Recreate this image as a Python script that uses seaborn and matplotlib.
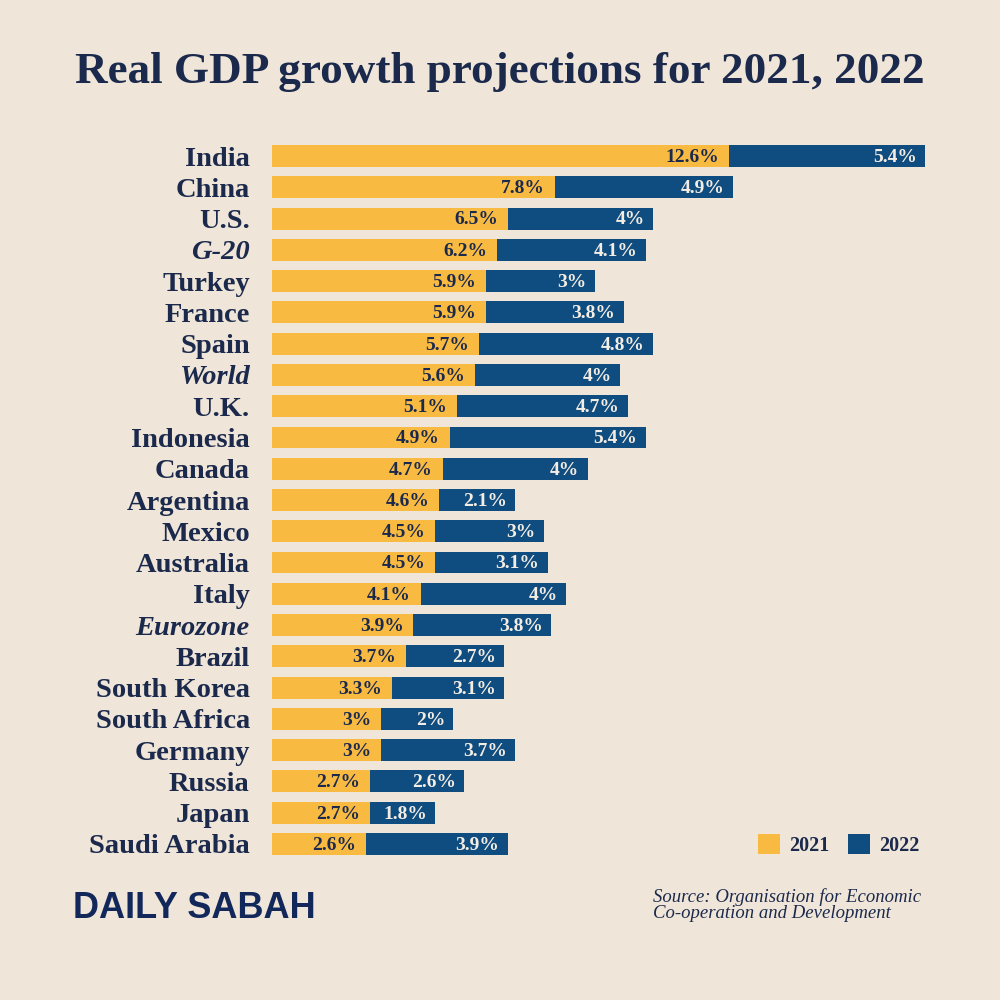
"""Real GDP growth projections for 2021 and 2022 (OECD), stacked horizontal bars."""
import pandas as pd
import matplotlib.pyplot as plt
import seaborn as sns
from matplotlib.patches import Patch

COUNTRIES = ["India", "China", "U.S.", "G-20", "Turkey", "France", "Spain", "World",
             "U.K.", "Indonesia", "Canada", "Argentina", "Mexico", "Australia", "Italy",
             "Eurozone", "Brazil", "South Korea", "South Africa", "Germany", "Russia",
             "Japan", "Saudi Arabia"]
GROWTH_2021 = [12.6, 7.8, 6.5, 6.2, 5.9, 5.9, 5.7, 5.6, 5.1, 4.9, 4.7, 4.6, 4.5, 4.5,
               4.1, 3.9, 3.7, 3.3, 3.0, 3.0, 2.7, 2.7, 2.6]
GROWTH_2022 = [5.4, 4.9, 4.0, 4.1, 3.0, 3.8, 4.8, 4.0, 4.7, 5.4, 4.0, 2.1, 3.0, 3.1,
               4.0, 3.8, 2.7, 3.1, 2.0, 3.7, 2.6, 1.8, 3.9]
AGGREGATES = {"G-20", "World", "Eurozone"}   # shown in italics
YEARS = ["2021", "2022"]

BG = "#F0E5D9"
YELLOW = "#F9BA42"
NAVY = "#0F4C7F"
INK = "#1B2A4C"
CREAM = "#F4EDE3"
SERIF = ["Liberation Serif", "DejaVu Serif"]

sns.set_theme(style="white")
plt.rcParams.update({"font.family": SERIF, "figure.facecolor": BG, "axes.facecolor": BG})

df = pd.DataFrame({"country": COUNTRIES, "y2021": GROWTH_2021, "y2022": GROWTH_2022})
df["total"] = df["y2021"] + df["y2022"]

fig = plt.figure(figsize=(10, 10), dpi=100)
ax = fig.add_axes([0.272, 0.1404, 0.653, 0.7192])

# total length in navy, 2021 part drawn over it in yellow
sns.barplot(data=df, x="total", y="country", color=NAVY, saturation=1, width=0.7,
            linewidth=0, ax=ax)
sns.barplot(data=df, x="y2021", y="country", color=YELLOW, saturation=1, width=0.7,
            linewidth=0, ax=ax)

for i, row in df.iterrows():
    ax.annotate(f"{row['y2021']:g}%", (row["y2021"], i), xytext=(-7, -1),
                textcoords="offset points", ha="right", va="center",
                fontsize=14, fontweight="bold", color=INK)
    ax.annotate(f"{row['y2022']:g}%", (row["total"], i), xytext=(-6, -1),
                textcoords="offset points", ha="right", va="center",
                fontsize=14, fontweight="bold", color=CREAM)

ax.set_xlim(0, 18)
ax.set_xlabel(""); ax.set_ylabel("")
ax.set_xticks([])
sns.despine(ax=ax, left=True, bottom=True)
ax.tick_params(axis="y", length=0, pad=16, labelsize=20.5, labelcolor=INK)
for lab in ax.get_yticklabels():
    lab.set_fontweight("bold")
    if lab.get_text() in AGGREGATES:
        lab.set_fontstyle("italic")

fig.text(0.5, 0.928, "Real GDP growth projections for 2021, 2022", ha="center", va="center",
         fontsize=32.5, fontweight="bold", color=INK)

handles = [Patch(facecolor=YELLOW, edgecolor="none"), Patch(facecolor=NAVY, edgecolor="none")]
leg = fig.legend(handles, YEARS, loc="center right", bbox_to_anchor=(0.938, 0.155), ncol=2,
                 frameon=False, handlelength=1.1, handleheight=1.1, handletextpad=0.45,
                 columnspacing=0.95, prop={"family": SERIF, "size": 14.5, "weight": "bold"})
for t in leg.get_texts():
    t.set_color(INK)

fig.text(0.653, 0.112, "Source: Organisation for Economic\nCo-operation and Development",
         ha="left", va="top", fontsize=13.5, fontstyle="italic", color=INK, linespacing=0.95)

fig.text(0.073, 0.092, "DAILY SABAH", ha="left", va="center", fontsize=26,
         fontweight="bold", color="#13285A",
         family=["Liberation Sans", "DejaVu Sans"])

fig.savefig("out.png", dpi=100, facecolor=BG)
plt.close(fig)
